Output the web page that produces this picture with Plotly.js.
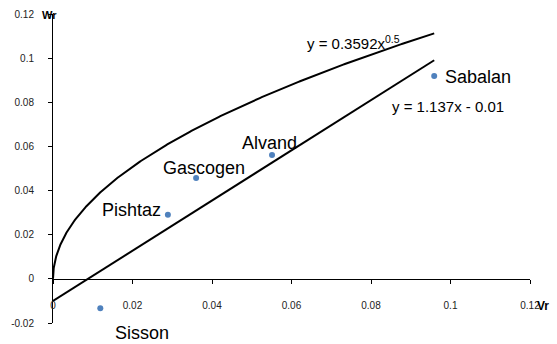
<!DOCTYPE html>
<html><head><meta charset="utf-8">
<script src="https://cdn.plot.ly/plotly-3.0.1.min.js"></script>
<style>html,body{margin:0;padding:0;background:#fff}#chart{width:557px;height:344px}</style>
</head><body><div id="chart"></div>
<script>
// Data
const names = ["Sisson", "Pishtaz", "Gascogen", "Alvand", "Sabalan"];
const vr = [0.0119, 0.0289, 0.0360, 0.0551, 0.0959];
const wr = [-0.0133, 0.0290, 0.0457, 0.0561, 0.0919];
const xTicks = [0, 0.02, 0.04, 0.06, 0.08, 0.1, 0.12];
const yTicks = [-0.02, 0, 0.02, 0.04, 0.06, 0.08, 0.1, 0.12];
// Fitted trendline coefficients
const powerA = 0.3592, powerB = 0.5;
const linSlope = 1.137, linIntercept = -0.01;

const xMax = Math.max(...vr);
const N = 400;
const tx = [];
for (let i = 0; i <= N; i++) tx.push(xMax * Math.pow(i / N, 2));
const powY = tx.map(x => powerA * Math.pow(x, powerB));
const linX = [0, xMax];
const linY = linX.map(x => linSlope * x + linIntercept);

const font = "Liberation Sans, Arial, sans-serif";
const traces = [
  {x: tx, y: powY, mode: "lines", line: {color: "#000", width: 2}, hoverinfo: "skip"},
  {x: linX, y: linY, mode: "lines", line: {color: "#000", width: 2}, hoverinfo: "skip"},
  {x: vr, y: wr, mode: "markers", marker: {color: "#4F81BD", size: 6}}
];

const shifts = [[42, -25], [-36, 5], [8, 10], [-3, 12], [44, -1]];
const annotations = names.map((n, i) => ({
  x: vr[i], y: wr[i], xref: "x", yref: "y", text: n, showarrow: false,
  xanchor: "center", yanchor: "middle",
  xshift: shifts[i][0], yshift: shifts[i][1],
  font: {family: font, size: 18, color: "#000"}
}));
annotations.push(
  {x: 0.0755, y: 0.1069, xref: "x", yref: "y", showarrow: false,
   xanchor: "center", yanchor: "middle",
   text: "y = 0.3592x<sup>0.5</sup>", font: {family: font, size: 15, color: "#000"}},
  {x: 0.0994, y: 0.0782, xref: "x", yref: "y", showarrow: false,
   xanchor: "center", yanchor: "middle",
   text: "y = 1.137x - 0.01", font: {family: font, size: 15, color: "#000"}},
  {x: 49, y: 15, xref: "paper", yref: "paper", showarrow: false, text: "<b>Wr</b>",
   xanchor: "center", yanchor: "middle",
   font: {family: font, size: 11, color: "#000"}},
  {x: 543, y: 306, xref: "paper", yref: "paper", showarrow: false, text: "<b>Vr</b>",
   xanchor: "center", yanchor: "middle",
   font: {family: font, size: 12, color: "#000"}}
);
// convert pixel-placed axis titles to paper coords
const W = 557, H = 344, mL = 53, mR = 27, mT = 14, mB = 21;
annotations.forEach(a => {
  if (a.xref === "paper") {
    a.x = (a.x - mL) / (W - mL - mR);
    a.y = 1 - (a.y - mT) / (H - mT - mB);
  }
});

const layout = {
  width: W, height: H,
  margin: {l: mL, r: mR, t: mT, b: mB, pad: 0},
  paper_bgcolor: "#fff", plot_bgcolor: "#fff",
  showlegend: false,
  font: {family: font, size: 10, color: "#000"},
  xaxis: {
    range: [0, 0.12], tickvals: xTicks, ticktext: xTicks.map(String),
    showgrid: false, zeroline: false, showline: true, linecolor: "#000", linewidth: 1,
    ticks: "outside", ticklen: 4, tickcolor: "#000",
    anchor: "free", position: 0.02 / 0.14, ticklabelstandoff: 13,
    tickfont: {family: font, size: 10, color: "#222"}
  },
  yaxis: {
    range: [-0.02, 0.12], tickvals: yTicks, ticktext: yTicks.map(String),
    showgrid: false, zeroline: false, showline: true, linecolor: "#000", linewidth: 1,
    ticks: "outside", ticklen: 4, tickcolor: "#000", ticklabelstandoff: 12,
    tickfont: {family: font, size: 10, color: "#222"}
  },
  annotations: annotations
};
Plotly.newPlot("chart", traces, layout, {displayModeBar: false, staticPlot: true});
</script>
</body></html>
